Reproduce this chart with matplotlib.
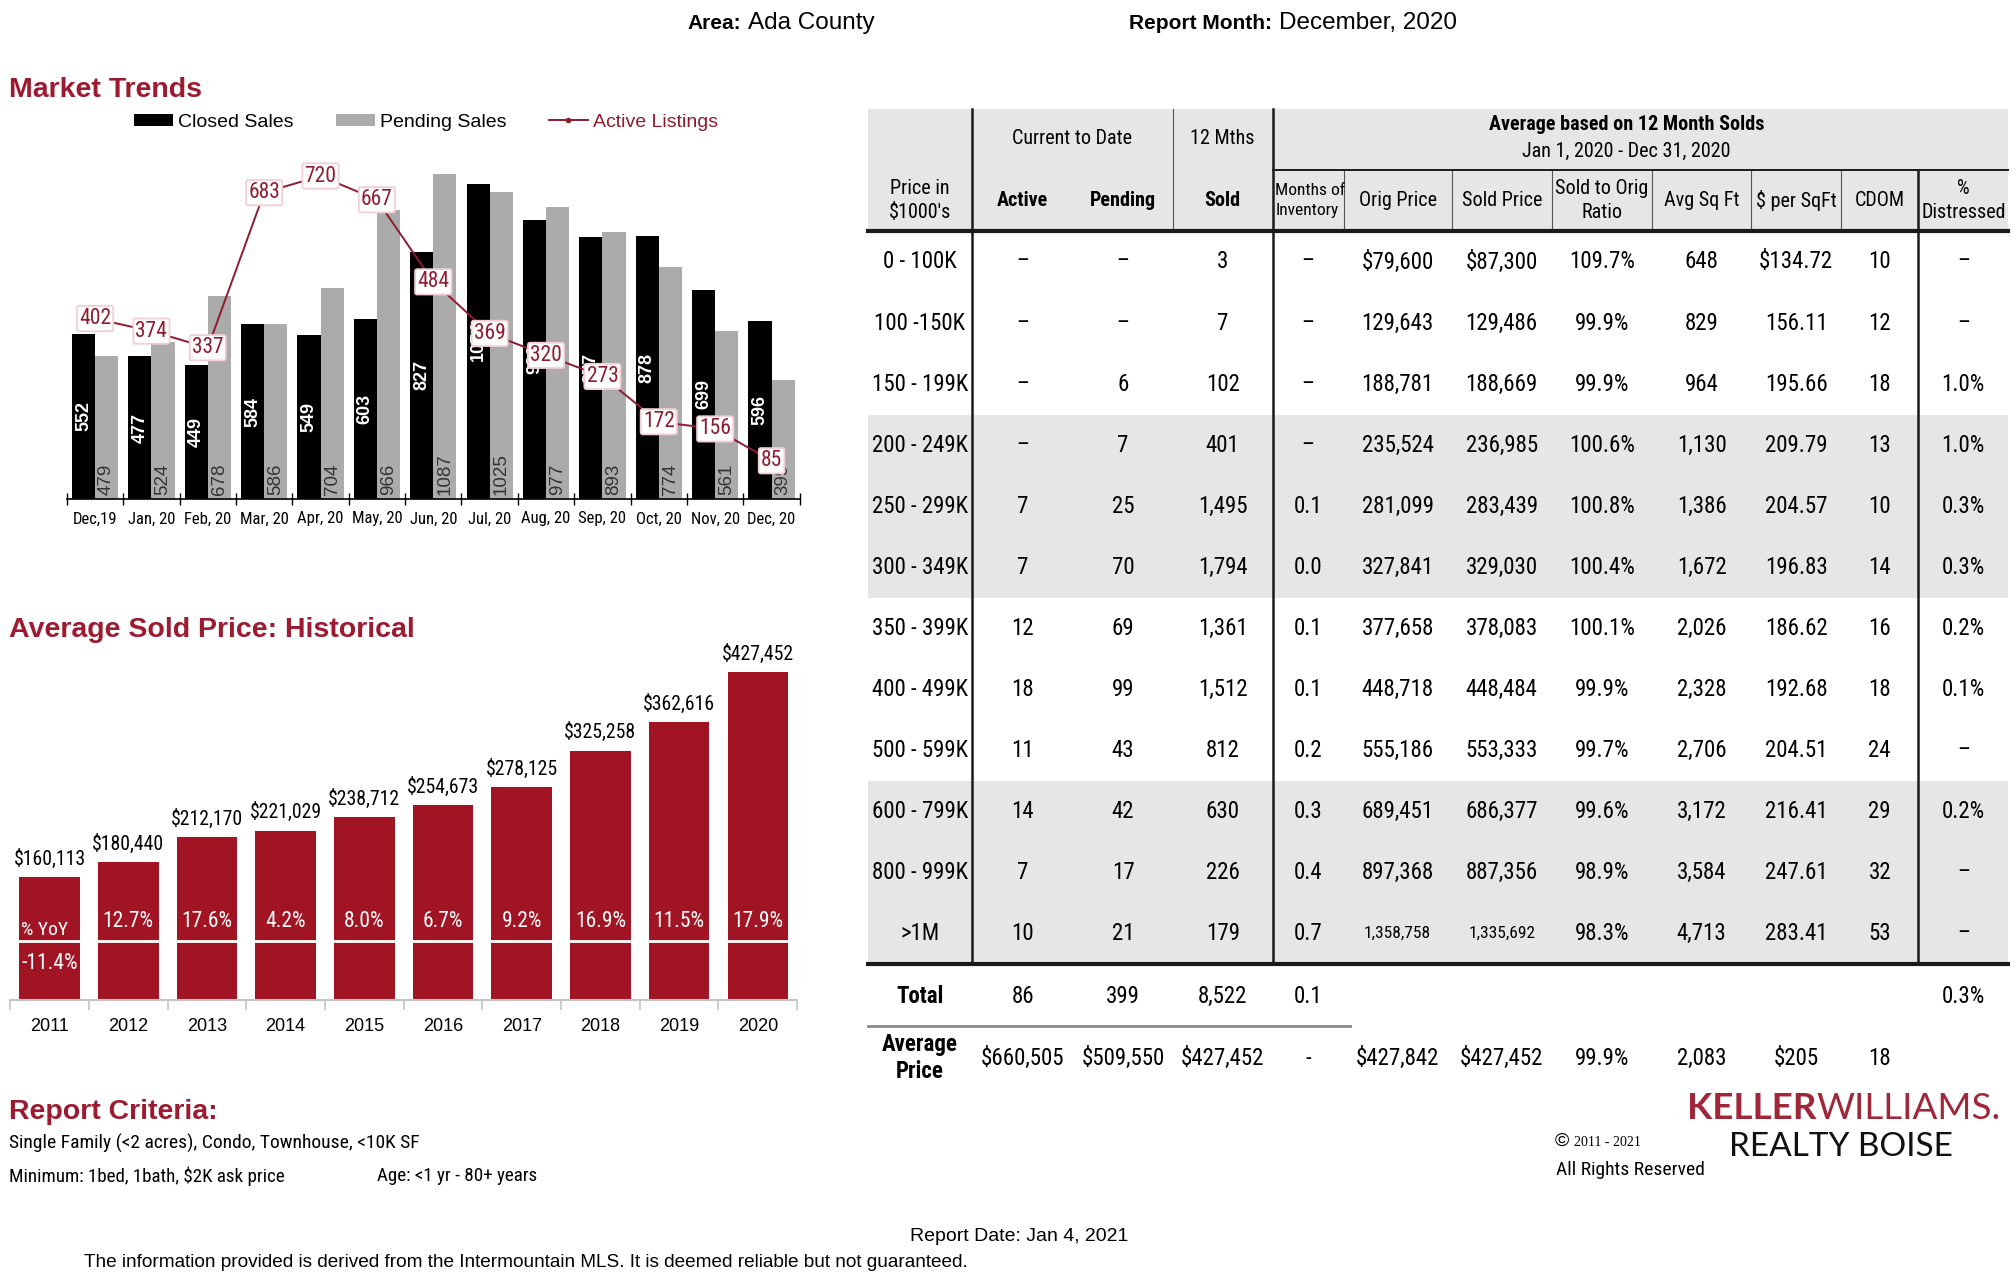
import os
import numpy as np
import matplotlib
matplotlib.use('Agg')
import matplotlib.pyplot as plt
from matplotlib import font_manager
from matplotlib.font_manager import FontProperties
from matplotlib.patches import Rectangle

# fonts: the report uses Arial and Arial Narrow. Liberation Sans is the Arial clone;
# look for any installed narrow/condensed sans, otherwise shrink regular text instead.
REG = 'Liberation Sans'
plt.rcParams['font.family'] = [REG, 'DejaVu Sans']


def find_narrow(bold):
    found = []
    for f in font_manager.fontManager.ttflist:
        base = os.path.basename(f.fname).lower()
        name = f.name.lower()
        if f.style != 'normal' or 'mono' in base or 'serif' in base or 'cjk' in base:
            continue
        if 'dejavu' in base:
            continue
        if not ('narrow' in base or 'narrow' in name or f.stretch in ('condensed', 'semi-condensed')
                or ('condensed' in base and 'semi' not in base and 'extra' not in base)):
            continue
        if bold != (f.weight in (700, 'bold')):
            continue
        rank = 0 if 'liberation' in base else 1 if 'arial' in base else 2 if 'roboto' in base else 3
        found.append((rank, f.fname))
    return sorted(found)[0][1] if found else None


narrow_path = find_narrow(False)
narrow_bold_path = find_narrow(True)
if narrow_path:
    NARROW_SCALE = 1.0
else:
    NARROW_SCALE = 0.82


def nf(size, bold=False):
    # font properties for the "narrow" text of the report
    path = narrow_bold_path if bold else narrow_path
    if path:
        return FontProperties(fname=path, size=size * NARROW_SCALE)
    return FontProperties(family=REG, size=size * NARROW_SCALE,
                          weight='bold' if bold else 'normal')


RED = '#9c1b30'
LINE_RED = '#8e1b2e'
BAR_RED = '#a11424'
GREY = '#ababab'

# ---- market trends data ----
months = ['Dec,19', 'Jan, 20', 'Feb, 20', 'Mar, 20', 'Apr, 20', 'May, 20', 'Jun, 20',
          'Jul, 20', 'Aug, 20', 'Sep, 20', 'Oct, 20', 'Nov, 20', 'Dec, 20']
closed_sales = [552, 477, 449, 584, 549, 603, 827, 1054, 933, 877, 878, 699, 596]
pending_sales = [479, 524, 678, 586, 704, 966, 1087, 1025, 977, 893, 774, 561, 399]
active_listings = [402, 374, 337, 683, 720, 667, 484, 369, 320, 273, 172, 156, 85]

# ---- historical average sold price ----
years = ['2011', '2012', '2013', '2014', '2015', '2016', '2017', '2018', '2019', '2020']
avg_price = [160113, 180440, 212170, 221029, 238712, 254673, 278125, 325258, 362616, 427452]
yoy_pct = [-11.4, 12.7, 17.6, 4.2, 8.0, 6.7, 9.2, 16.9, 11.5, 17.9]

# ---- table ----
price_ranges = ['0 - 100K', '100 -150K', '150 - 199K', '200 - 249K', '250 - 299K', '300 - 349K',
                '350 - 399K', '400 - 499K', '500 - 599K', '600 - 799K', '800 - 999K', '>1M']
active = ['–', '–', '–', '–', '7', '7', '12', '18', '11', '14', '7', '10']
pending = ['–', '–', '6', '7', '25', '70', '69', '99', '43', '42', '17', '21']
sold = ['3', '7', '102', '401', '1,495', '1,794', '1,361', '1,512', '812', '630', '226', '179']
months_inv = ['–', '–', '–', '–', '0.1', '0.0', '0.1', '0.1', '0.2', '0.3', '0.4', '0.7']
orig_price = ['$79,600', '129,643', '188,781', '235,524', '281,099', '327,841', '377,658',
              '448,718', '555,186', '689,451', '897,368', '1,358,758']
sold_price = ['$87,300', '129,486', '188,669', '236,985', '283,439', '329,030', '378,083',
              '448,484', '553,333', '686,377', '887,356', '1,335,692']
sold_orig_ratio = ['109.7%', '99.9%', '99.9%', '100.6%', '100.8%', '100.4%', '100.1%',
                   '99.9%', '99.7%', '99.6%', '98.9%', '98.3%']
avg_sqft = ['648', '829', '964', '1,130', '1,386', '1,672', '2,026', '2,328', '2,706',
            '3,172', '3,584', '4,713']
per_sqft = ['$134.72', '156.11', '195.66', '209.79', '204.57', '196.83', '186.62', '192.68',
            '204.51', '216.41', '247.61', '283.41']
cdom = ['10', '12', '18', '13', '10', '14', '16', '18', '24', '29', '32', '53']
distressed = ['–', '–', '1.0%', '1.0%', '0.3%', '0.3%', '0.2%', '0.1%', '–', '0.2%', '–', '–']
total_row = ['86', '399', '8,522', '0.1']
total_distressed = '0.3%'
average_row = ['$660,505', '$509,550', '$427,452', '-', '$427,842', '$427,452', '99.9%',
               '2,083', '$205', '18']

# page is laid out in a 1568 x 994 grid (same aspect as the 2016 x 1278 output)
W, H = 1568, 994
fig = plt.figure(figsize=(20.16, 12.78), dpi=100)
page = fig.add_axes([0, 0, 1, 1])
page.set_xlim(0, W)
page.set_ylim(H, 0)
page.axis('off')


def box(left, top, right, bottom):
    return [left / W, 1 - bottom / H, (right - left) / W, (bottom - top) / H]


# ================= Market Trends =================
ax1 = fig.add_axes(box(52, 109, 622, 388))
ax1.set_facecolor('none')
x = np.arange(len(months))
closed_bars = ax1.bar(x - 0.205, closed_sales, width=0.41, color='black', label='Closed Sales')
pending_bars = ax1.bar(x + 0.205, pending_sales, width=0.41, color=GREY, label='Pending Sales')
ax1.set_ylim(0, 1200)
ax1.set_xlim(-0.5, len(months) - 0.5)
for s in ['top', 'right', 'left']:
    ax1.spines[s].set_visible(False)
ax1.spines['bottom'].set_linewidth(1.2)
ax1.set_yticks([])
ax1.set_xticks(np.arange(len(months) + 1) - 0.5)
ax1.set_xticklabels([])
ax1.tick_params(axis='x', which='major', direction='inout', length=9, width=1)
ax1.set_xticks(x, minor=True)
ax1.set_xticklabels(months, minor=True, fontproperties=nf(12))
ax1.tick_params(axis='x', which='minor', length=0, pad=9)

for xi, v in zip(x, closed_sales):
    ax1.text(xi - 0.205, v / 2, str(v), rotation=90, ha='center', va='center',
             color='white', fontweight='bold', fontsize=13)
for xi, v in zip(x, pending_sales):
    ax1.text(xi + 0.205, 12, str(v), rotation=90, ha='center', va='bottom',
             color='#333333', fontsize=13.5)

ax2 = ax1.twinx()
ax2.set_ylim(0, 800)
ax2.axis('off')
active_line, = ax2.plot(x, active_listings, color=LINE_RED, lw=1.4, marker='o', ms=3,
                        label='Active Listings')
for xi, v in zip(x, active_listings):
    ax2.text(xi, v, str(v), ha='center', va='center', color=LINE_RED, fontproperties=nf(15.5),
             bbox=dict(boxstyle='round,pad=0.1', fc='white', ec='#f2cfd5', lw=1.3))

leg = fig.legend(handles=[closed_bars, pending_bars, active_line], loc='center left',
                 bbox_to_anchor=(104 / W, 1 - 95 / H), ncol=3, frameon=False, fontsize=14,
                 handlelength=2.0, handleheight=0.6, handletextpad=0.3, columnspacing=2.15,
                 borderpad=0, borderaxespad=0, numpoints=1)
leg.get_texts()[2].set_color(LINE_RED)

page.text(7, 70, 'Market Trends', fontsize=20.5, fontweight='bold', color=RED, va='center')

# ================= Average Sold Price =================
ax3 = fig.add_axes(box(8, 497.4, 620, 778))
ax3.set_facecolor('none')
xy = np.arange(len(years))
ax3.bar(xy, avg_price, width=0.77, color=BAR_RED)
ax3.set_ylim(0, 470000)
ax3.set_xlim(-0.5, len(years) - 0.5)
for s in ['top', 'right', 'left']:
    ax3.spines[s].set_visible(False)
ax3.spines['bottom'].set_color('#c4c4c4')
ax3.spines['bottom'].set_linewidth(1.5)
ax3.set_yticks([])
ax3.set_xticks(np.arange(len(years) + 1) - 0.5)
ax3.set_xticklabels([])
ax3.tick_params(axis='x', which='major', direction='out', length=7, width=1.2, color='#c4c4c4')
ax3.set_xticks(xy, minor=True)
ax3.set_xticklabels(years, minor=True, fontsize=13)
ax3.tick_params(axis='x', which='minor', length=0, pad=13)

# white divider between the YoY row and the bottom of the bars
ax3.axhline(77000, color='white', lw=2)
tr = ax3.get_xaxis_transform()
for xi, v, p in zip(xy, avg_price, yoy_pct):
    ax3.annotate(f'${v:,}', (xi, v), xytext=(0, 6), textcoords='offset points',
                 ha='center', va='bottom', fontproperties=nf(14.2))
    if xi == 0:
        ax3.text(xi - 0.36, 0.195, '% YoY', transform=tr, ha='left', va='center',
                 color='white', fontproperties=nf(14))
        ax3.text(xi, 0.103, f'{p:.1f}%', transform=tr, ha='center', va='center',
                 color='white', fontproperties=nf(15.5))
    else:
        ax3.text(xi, 0.217, f'{p:.1f}%', transform=tr, ha='center', va='center',
                 color='white', fontproperties=nf(15.5))

page.text(7, 490, 'Average Sold Price: Historical', fontsize=20.5, fontweight='bold',
          color=RED, va='center')

# ================= table =================
col_edges = [675, 756, 835, 912, 990, 1045, 1129, 1207, 1285, 1362, 1432, 1492, 1562]
cx = [(a + b) / 2 for a, b in zip(col_edges[:-1], col_edges[1:])]
head_top, head_bot, sub_line = 85, 180, 132
row_h = 47.5
n_rows = len(price_ranges)
body_bot = head_bot + row_h * n_rows

page.add_patch(Rectangle((675, head_top), 1562 - 675, head_bot - head_top, fc='#e6e6e6', ec='none'))
for i in range(n_rows):
    if (i // 3) % 2 == 1:
        page.add_patch(Rectangle((675, head_bot + row_h * i), 1562 - 675, row_h,
                                 fc='#e6e6e6', ec='none'))

thick = dict(color='#1a1a1a', lw=1.8)
thin = dict(color='#555555', lw=0.8)
page.plot([756, 756], [head_top, body_bot], **thick)
page.plot([990, 990], [head_top, body_bot], **thick)
page.plot([1492, 1492], [sub_line, body_bot], **thick)
page.plot([912, 912], [head_top, head_bot], **thin)
for xe in [1045, 1129, 1207, 1285, 1362, 1432]:
    page.plot([xe, xe], [sub_line, head_bot], **thin)
page.plot([990, 1562], [sub_line, sub_line], color='#1a1a1a', lw=1.4)
page.plot([675, 1562], [head_bot, head_bot], color='#1a1a1a', lw=3)
page.plot([675, 1562], [body_bot, body_bot], color='#1a1a1a', lw=3)
page.plot([675, 1050], [798, 798], color='#8a8a8a', lw=2)

hkw = dict(ha='center', va='center')
page.text(834, 108, 'Current to Date', fontproperties=nf(14.5), **hkw)
page.text(cx[3], 108, '12 Mths', fontproperties=nf(14.5), **hkw)
page.text(1265, 97, 'Average based on 12 Month Solds', fontproperties=nf(14.5, True), **hkw)
page.text(1265, 118, 'Jan 1, 2020 - Dec 31, 2020', fontproperties=nf(14.5), **hkw)
page.text(cx[0], 156, "Price in\n$1000's", linespacing=1.3, fontproperties=nf(14.5), **hkw)
page.text(cx[1], 156, 'Active', fontproperties=nf(14.5, True), **hkw)
page.text(cx[2], 156, 'Pending', fontproperties=nf(14.5, True), **hkw)
page.text(cx[3], 156, 'Sold', fontproperties=nf(14.5, True), **hkw)
page.text(992, 156, 'Months of\nInventory', ha='left', va='center', fontproperties=nf(12.5),
          linespacing=1.45)
page.text(cx[5], 156, 'Orig Price', fontproperties=nf(14.5), **hkw)
page.text(cx[6], 156, 'Sold Price', fontproperties=nf(14.5), **hkw)
page.text(cx[7], 156, 'Sold to Orig\nRatio', linespacing=1.3, fontproperties=nf(14.5), **hkw)
page.text(cx[8], 156, 'Avg Sq Ft', fontproperties=nf(14.5), **hkw)
page.text(cx[9], 156, '$ per SqFt', fontproperties=nf(14.5), **hkw)
page.text(cx[10], 156, 'CDOM', fontproperties=nf(14.5), **hkw)
page.text(cx[11], 156, '%\nDistressed', linespacing=1.3, fontproperties=nf(14.5), **hkw)

columns = [price_ranges, active, pending, sold, months_inv, orig_price, sold_price,
           sold_orig_ratio, avg_sqft, per_sqft, cdom, distressed]
for c, col in enumerate(columns):
    for i, val in enumerate(col):
        y = head_bot + row_h * (i + 0.5)
        # the seven-figure prices are set smaller so they fit the column
        fs = 12.5 if (c in (5, 6) and len(val) >= 9) else 16.5
        page.text(cx[c], y, val, fontproperties=nf(fs), **hkw)

page.text(cx[0], 775, 'Total', fontproperties=nf(16.5, True), **hkw)
for c, val in enumerate(total_row, start=1):
    page.text(cx[c], 775, val, fontproperties=nf(16.5), **hkw)
page.text(cx[11], 775, total_distressed, fontproperties=nf(16.5), **hkw)

page.text(cx[0], 823, 'Average\nPrice', fontproperties=nf(16.5, True), linespacing=1.2, **hkw)
for c, val in enumerate(average_row, start=1):
    page.text(cx[c], 823, val, fontproperties=nf(16.5), **hkw)

# ================= header / footer text =================
page.text(535, 18, 'Area:', fontsize=15, fontweight='bold', va='center')
page.text(582, 18, 'Ada County', fontsize=17.5, va='center')
page.text(878, 18, 'Report Month:', fontsize=15, fontweight='bold', va='center')
page.text(995, 18, 'December, 2020', fontsize=17.5, va='center')

page.text(7, 865, 'Report Criteria:', fontsize=20.5, fontweight='bold', color=RED, va='center')
page.text(7, 889, 'Single Family (<2 acres), Condo, Townhouse, <10K SF', fontproperties=nf(14),
          va='center')
page.text(7, 915, 'Minimum: 1bed, 1bath, $2K ask price', fontproperties=nf(13.7), va='center')
page.text(293, 915, 'Age: <1 yr - 80+ years', fontproperties=nf(13.7), va='center')

page.text(793, 962, 'Report Date: Jan 4, 2021', fontsize=14, ha='center', va='center')
page.text(65, 982, 'The information provided is derived from the Intermountain MLS. '
          'It is deemed reliable but not guaranteed.', fontsize=13.7, va='center')

page.text(1209, 888, '©', fontsize=14, va='center')
page.text(1224, 889, '2011 - 2021', family='Liberation Serif', fontsize=10, va='center')
page.text(1210, 910, 'All Rights Reserved', fontproperties=nf(14), va='center')

kw_logo = page.text(1312, 862, 'KELLER', family='Lato', fontweight='bold', fontsize=26.5,
                    color='#a0263a', va='center')
page.annotate('WILLIAMS.', xy=(1, 0.5), xycoords=kw_logo, va='center', ha='left',
              family='Lato', fontweight='normal', fontsize=26.5, color='#a0263a')
page.text(1345, 892, 'REALTY BOISE', family='Lato', fontweight='normal', fontsize=24,
          color='#111111', va='center')

fig.savefig('out.png', dpi=100, facecolor='white')
